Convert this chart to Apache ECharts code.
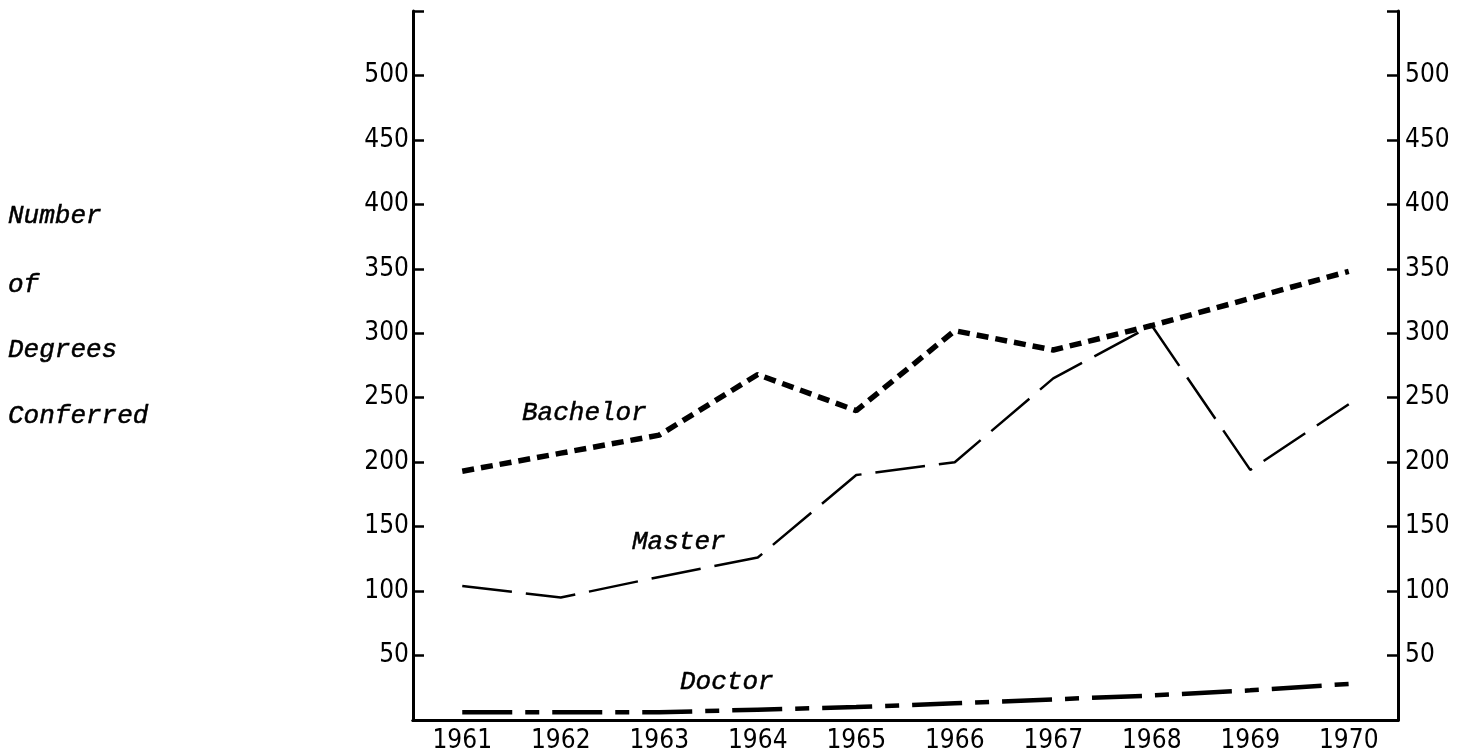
<!DOCTYPE html>
<html>
<head>
<meta charset="utf-8">
<script src="https://cdn.jsdelivr.net/npm/echarts@6/dist/echarts.min.js"></script>
<style>
html,body{margin:0;padding:0;background:#fff;}
#c{width:1468px;height:754px;}
</style>
</head>
<body>
<div id="c"></div>
<script>
const years = ['1961','1962','1963','1964','1965','1966','1967','1968','1969','1970'];
const bachelor = [193, 207, 221, 268, 240, 302, 287, 306, 327, 348];
const master = [104, 95, 111, 126, 190, 200, 265, 306, 194, 245];
const doctor = [6, 6, 6, 8, 10, 13, 16, 19, 23, 28];
const yTicks = {min: 0, max: 550, step: 50};

const chart = echarts.init(document.getElementById('c'));
const tickFont = {fontFamily: '"DejaVu Sans Condensed", "Liberation Sans"', fontSize: 26, color: '#000'};
const labFont = 'italic 26px "Liberation Mono"';
function yFmt(v){ return (v === yTicks.min || v === yTicks.max) ? '' : String(v); }
function yAxis(pos, margin){
  return {
    type: 'value', position: pos, min: yTicks.min, max: yTicks.max, interval: yTicks.step,
    axisLine: {show: true, lineStyle: {color: '#000', width: 3}},
    axisTick: {show: true, inside: true, length: 11, lineStyle: {color: '#000', width: 2.5}},
    axisLabel: Object.assign({margin: margin, formatter: yFmt}, tickFont),
    splitLine: {show: false}
  };
}
function txt(t, x, y){
  return {type: 'text', x: x, y: y, style: {text: t, font: labFont, fill: '#000', stroke: '#000', lineWidth: 0.5, verticalAlign: 'middle'}};
}
chart.setOption({
  animation: false,
  backgroundColor: '#fff',
  grid: {left: 413, right: 70, top: 11, bottom: 34},
  xAxis: [
    {type: 'category', data: years, boundaryGap: true, position: 'bottom',
     axisLine: {lineStyle: {color: '#000', width: 3}},
     axisTick: {inside: true, length: 10, lineStyle: {color: '#000', width: 2.5}},
     axisLabel: Object.assign({margin: 8}, tickFont),
     splitLine: {show: false}},
    {type: 'category', data: years, boundaryGap: true, position: 'top',
     axisLine: {lineStyle: {color: '#000', width: 3}},
     axisTick: {inside: true, length: 13, lineStyle: {color: '#000', width: 2.5}},
     axisLabel: {show: false},
     splitLine: {show: false}}
  ],
  yAxis: [yAxis('left', 4), yAxis('right', 7)],
  series: [
    {name: 'Bachelor', type: 'line', data: bachelor, symbol: 'none', xAxisIndex: 0, yAxisIndex: 0,
     lineStyle: {color: '#000', width: 5.5, type: [12, 7]}},
    {name: 'Master', type: 'line', data: master, symbol: 'none', xAxisIndex: 0, yAxisIndex: 0,
     lineStyle: {color: '#000', width: 2.5, type: [50, 14]}},
    {name: 'Doctor', type: 'line', data: doctor, symbol: 'none', xAxisIndex: 0, yAxisIndex: 0,
     lineStyle: {color: '#000', width: 4.5, type: [50, 13, 14, 13]}}
  ],
  graphic: [
    txt('Number', 8, 216),
    txt('of', 8, 285),
    txt('Degrees', 8, 350),
    txt('Conferred', 8, 416),
    txt('Bachelor', 522, 413),
    txt('Master', 632, 542),
    txt('Doctor', 680, 682)
  ]
});
</script>
</body>
</html>
